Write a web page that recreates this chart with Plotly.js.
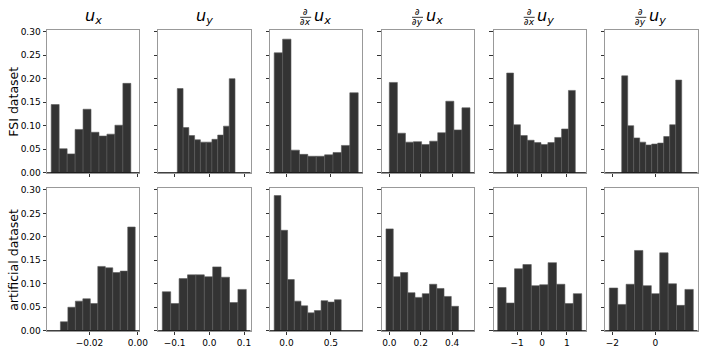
<!DOCTYPE html>
<html>
<head>
<meta charset="utf-8">
<script src="https://cdn.plot.ly/plotly-3.0.1.min.js"></script>
<style>html,body{margin:0;padding:0;background:#fff}#plot{width:706px;height:353px}</style>
</head>
<body>
<div id="plot"></div>
<script>
// fraction of samples per bin, 10 bins per histogram
var fsi_ux   = [0.145, 0.051, 0.040, 0.092, 0.135, 0.086, 0.078, 0.082, 0.101, 0.190];
var fsi_uy   = [0.179, 0.096, 0.079, 0.070, 0.065, 0.065, 0.071, 0.080, 0.099, 0.200];
var fsi_dxux = [0.255, 0.284, 0.048, 0.039, 0.035, 0.035, 0.038, 0.043, 0.058, 0.170];
var fsi_dyux = [0.192, 0.084, 0.065, 0.066, 0.060, 0.067, 0.085, 0.152, 0.091, 0.138];
var fsi_dxuy = [0.212, 0.102, 0.079, 0.069, 0.064, 0.060, 0.064, 0.075, 0.093, 0.175];
var fsi_dyuy = [0.206, 0.100, 0.074, 0.065, 0.059, 0.061, 0.063, 0.077, 0.102, 0.197];

var art_ux   = [0.019, 0.050, 0.063, 0.068, 0.058, 0.137, 0.134, 0.124, 0.127, 0.221];
var art_uy   = [0.083, 0.058, 0.111, 0.119, 0.119, 0.115, 0.136, 0.114, 0.060, 0.088];
var art_dxux = [0.288, 0.214, 0.109, 0.063, 0.053, 0.038, 0.043, 0.064, 0.061, 0.066];
var art_dyux = [0.217, 0.115, 0.124, 0.081, 0.071, 0.079, 0.099, 0.090, 0.073, 0.052];
var art_dxuy = [0.092, 0.059, 0.132, 0.141, 0.096, 0.098, 0.145, 0.099, 0.058, 0.079];
var art_dyuy = [0.091, 0.056, 0.099, 0.171, 0.096, 0.079, 0.166, 0.100, 0.054, 0.088];

// first and last bin edge of each histogram
var fsi_edges = [[-0.0358, -0.0029], [-0.0922, 0.0741], [-0.139, 0.808], [0.0, 0.514], [-1.423, 1.343], [-1.563, 1.228]];
var art_edges = [[-0.0320, -0.0011], [-0.1354, 0.1066], [-0.139, 0.616], [-0.021, 0.441], [-1.786, 1.601], [-2.140, 1.767]];

var x_tickvals = [[-0.02, 0], [-0.1, 0, 0.1], [0, 0.5], [0, 0.2, 0.4], [-1, 0, 1], [-2, 0]];
var x_ticktext = [["−0.02", "0.00"], ["−0.1", "0.0", "0.1"], ["0.0", "0.5"], ["0.0", "0.2", "0.4"], ["−1", "0", "1"], ["−2", "0"]];
var y_tickvals = [0, 0.05, 0.1, 0.15, 0.2, 0.25, 0.3];
var y_ticktext = ["0.00", "0.05", "0.10", "0.15", "0.20", "0.25", "0.30"];

var row_labels = ["FSI dataset", "artificial dataset"];
var col_deriv = ["", "", "x", "y", "x", "y"];   // d/d? in the title
var col_comp  = ["x", "y", "x", "x", "y", "y"]; // u_?

var rows = [
  [fsi_ux, fsi_uy, fsi_dxux, fsi_dyux, fsi_dxuy, fsi_dyuy],
  [art_ux, art_uy, art_dxux, art_dyux, art_dxuy, art_dyuy]
];
var edges = [fsi_edges, art_edges];

// pixel -> paper
var W = 706, H = 353;
function px(x) { return x / W; }
function py(y) { return 1 - y / H; }

var colLeft = [47, 158.1, 270, 381.8, 493.5, 605.1];
var colW = 92.4;
var rowPx = [[30, 172.7], [188.3, 330.7]];
var tickFont = {family: "DejaVu Sans", size: 9, color: "#000"};

var data = [];
var layout = {
  width: W, height: H,
  margin: {l: 0, r: 0, t: 0, b: 0},
  paper_bgcolor: "#fff", plot_bgcolor: "#fff",
  showlegend: false,
  font: {family: "DejaVu Sans", color: "#000"},
  annotations: [], shapes: []
};

for (var c = 0; c < 6; c++) {
  // shared x range per column (union of both rows + 5% margin)
  var lo = Math.min(fsi_edges[c][0], art_edges[c][0]);
  var hi = Math.max(fsi_edges[c][1], art_edges[c][1]);
  var pad = (hi - lo) * 0.05;

  for (var r = 0; r < 2; r++) {
    var k = r * 6 + c + 1;
    var id = k === 1 ? "" : String(k);
    var vals = rows[r][c];
    var e0 = edges[r][c][0], e1 = edges[r][c][1];
    var bw = (e1 - e0) / vals.length;
    var xs = vals.map(function (v, i) { return e0 + bw * (i + 0.5); });

    data.push({
      type: "bar", x: xs, y: vals, width: bw,
      xaxis: "x" + id, yaxis: "y" + id,
      marker: {color: "#333333", line: {color: "#5a5a5a", width: 0.6}},
      hoverinfo: "skip"
    });

    layout["xaxis" + id] = {
      domain: [px(colLeft[c]), px(colLeft[c] + colW)],
      range: [lo - pad, hi + pad],
      anchor: "y" + id,
      tickmode: "array", tickvals: x_tickvals[c], ticktext: x_ticktext[c],
      showticklabels: r === 1,
      ticks: "outside", ticklen: 3.5, tickwidth: 0.8, tickcolor: "#000",
      tickfont: tickFont,
      showline: true, mirror: true, linecolor: "#999", linewidth: 1,
      showgrid: false, zeroline: false, fixedrange: true
    };
    layout["yaxis" + id] = {
      domain: [py(rowPx[r][1]), py(rowPx[r][0])],
      range: [0, 0.3035],
      anchor: "x" + id,
      tickmode: "array", tickvals: y_tickvals, ticktext: y_ticktext,
      showticklabels: c === 0,
      ticks: "outside", ticklen: 3.5, tickwidth: 0.8, tickcolor: "#000",
      tickfont: tickFont,
      showline: true, mirror: true, linecolor: "#999", linewidth: 1,
      showgrid: false, zeroline: false, fixedrange: true
    };

    // black bottom line
    layout.shapes.push({
      type: "line", xref: "x" + id + " domain", yref: "y" + id,
      x0: 0, x1: 1, y0: 0, y1: 0,
      line: {color: "#000", width: 1.4}
    });
  }

  // column titles
  var cx = colLeft[c] + colW / 2;
  var utext = "<i>u</i><sub><i>" + col_comp[c] + "</i></sub>";
  if (col_deriv[c] === "") {
    layout.annotations.push({
      xref: "paper", yref: "paper", x: px(cx), y: py(29.5),
      xanchor: "center", yanchor: "bottom", showarrow: false,
      text: utext, font: {size: 16, family: "DejaVu Sans"}
    });
  } else {
    var fx = cx - 10.5;
    layout.annotations.push({
      xref: "paper", yref: "paper", x: px(cx - 4.5), y: py(29.5),
      xanchor: "left", yanchor: "bottom", showarrow: false,
      text: utext, font: {size: 16, family: "DejaVu Sans"}
    });
    layout.annotations.push({
      xref: "paper", yref: "paper", x: px(fx), y: py(12.2),
      xanchor: "center", yanchor: "middle", showarrow: false,
      text: "∂", font: {size: 9, family: "DejaVu Sans"}
    });
    layout.annotations.push({
      xref: "paper", yref: "paper", x: px(fx), y: py(22.4),
      xanchor: "center", yanchor: "middle", showarrow: false,
      text: "∂<i>" + col_deriv[c] + "</i>", font: {size: 9, family: "DejaVu Sans"}
    });
    layout.shapes.push({
      type: "line", xref: "paper", yref: "paper",
      x0: px(fx - 5.5), x1: px(fx + 5.5), y0: py(17.3), y1: py(17.3),
      line: {color: "#000", width: 0.8}
    });
  }
}

// row labels
for (var r2 = 0; r2 < 2; r2++) {
  layout.annotations.push({
    xref: "paper", yref: "paper", x: px(13.3), y: py((rowPx[r2][0] + rowPx[r2][1]) / 2),
    xanchor: "center", yanchor: "middle", showarrow: false, textangle: -90,
    text: row_labels[r2], font: {size: 12.5, family: "DejaVu Sans"}
  });
}

Plotly.newPlot("plot", data, layout, {staticPlot: true, displayModeBar: false});
</script>
</body>
</html>
